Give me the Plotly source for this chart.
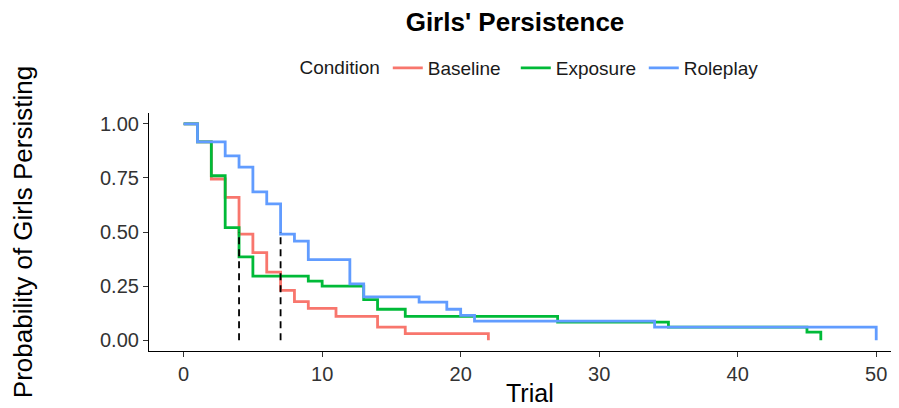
import plotly.graph_objects as go

baseline_t = [0, 1, 2, 3, 4, 5, 6, 7, 8, 9, 11, 14, 16, 22]
baseline_s = [1.0, 0.917, 0.745, 0.66, 0.49, 0.405, 0.315, 0.23, 0.178, 0.147, 0.11, 0.06, 0.03, 0.0]

exposure_t = [0, 1, 2, 3, 4, 5, 9, 10, 13, 14, 16, 27, 35, 45, 46]
exposure_s = [1.0, 0.917, 0.76, 0.52, 0.385, 0.296, 0.273, 0.25, 0.187, 0.143, 0.11, 0.083, 0.06, 0.037, 0.0]

roleplay_t = [0, 1, 3, 4, 5, 6, 7, 8, 9, 12, 13, 17, 19, 20, 21, 34, 50]
roleplay_s = [1.0, 0.917, 0.852, 0.80, 0.685, 0.63, 0.49, 0.458, 0.372, 0.26, 0.20, 0.176, 0.143, 0.115, 0.088, 0.06, 0.0]

median_t = [4, 7]
median_s = 0.5

x_ticks = [0, 10, 20, 30, 40, 50]
y_ticks = [0, 0.25, 0.5, 0.75, 1.0]
y_ticklabels = ["0.00", "0.25", "0.50", "0.75", "1.00"]

colors = {"Baseline": "#F8766D", "Exposure": "#00BA38", "Roleplay": "#619CFF"}

fig = go.Figure()
for name, t, s in [("Baseline", baseline_t, baseline_s),
                   ("Exposure", exposure_t, exposure_s),
                   ("Roleplay", roleplay_t, roleplay_s)]:
    fig.add_trace(go.Scatter(x=t, y=s, mode="lines", name=name,
                             line=dict(color=colors[name], width=2.8, shape="hv")))

for m in median_t:
    fig.add_trace(go.Scatter(x=[m, m], y=[0, median_s], mode="lines", showlegend=False,
                             line=dict(color="black", width=1.8, dash="7px,5px"), hoverinfo="skip"))

font_family = "Liberation Sans, Arial, sans-serif"
W, H = 891, 400
fig.update_layout(
    width=W, height=H,
    margin=dict(l=141, r=2, t=105, b=57),
    paper_bgcolor="white", plot_bgcolor="white",
    font=dict(family=font_family, color="black"),
    title=dict(text="<b>Girls' Persistence</b>", x=507 / W, xref="container", xanchor="center",
               y=1 - 14 / H, yref="container", yanchor="middle",
               font=dict(size=26, color="black")),
    legend=dict(orientation="h", x=527 / W, xref="container", xanchor="center",
                y=1 - 60 / H, yref="container", yanchor="middle",
                title=dict(text="Condition", font=dict(size=19, color="#1a1a1a")),
                font=dict(size=19, color="#1a1a1a"), itemwidth=30,
                entrywidth=83, entrywidthmode="pixels",
                traceorder="normal"),
    xaxis=dict(range=[-2.5, 51.5], tickvals=x_ticks, automargin=False,
               showgrid=False, zeroline=False, showline=True, linecolor="black", linewidth=1.2,
               ticks="outside", ticklen=5, tickcolor="#333333",
               tickfont=dict(size=20, color="#333333")),
    yaxis=dict(range=[-0.05, 1.05], tickvals=y_ticks, ticktext=y_ticklabels,
               showgrid=False, zeroline=False, showline=True, linecolor="black", linewidth=1.2,
               ticks="outside", ticklen=5, tickcolor="#333333",
               tickfont=dict(size=20, color="#333333"),
               title=dict(text="Probability of Girls Persisting", font=dict(size=26, color="black"),
                          standoff=64)),
    annotations=[dict(text="Trial", xref="x", x=25, yref="paper", y=0, yanchor="middle",
                      yshift=-42, showarrow=False, font=dict(size=25, color="black"))],
)

fig.write_html("out.html")
